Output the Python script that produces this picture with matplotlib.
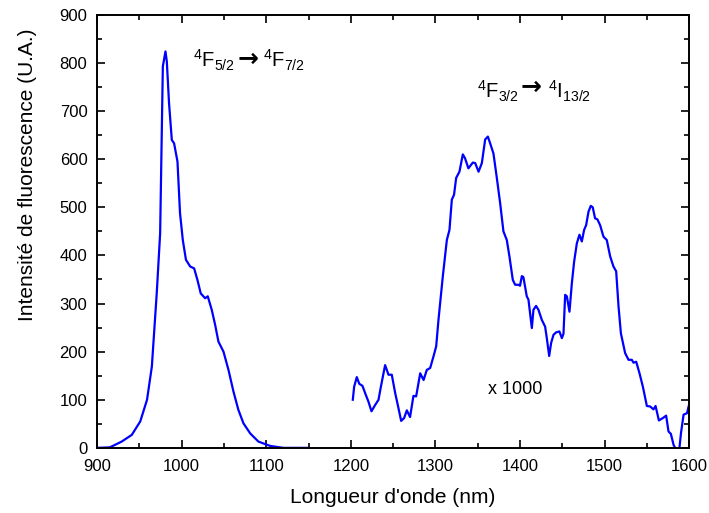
import numpy as np
import matplotlib
matplotlib.use('Agg')
import matplotlib.pyplot as plt

plt.rcParams['font.family'] = ['Liberation Sans', 'DejaVu Sans']
plt.rcParams['mathtext.fontset'] = 'custom'
plt.rcParams['mathtext.rm'] = 'Liberation Sans'
plt.rcParams['mathtext.it'] = 'Liberation Sans'

# 4F5/2 -> 4F7/2 band
wl_1 = [900, 915, 929, 941, 951, 959, 964.7, 970.5, 974.5, 977.7, 980.8, 982.4,
        985, 988.3, 991, 995, 998, 1001.3, 1005, 1010, 1014.7, 1018.6, 1022.5,
        1027.7, 1030.8, 1035.5, 1039.5, 1043.4, 1049.4, 1055.3, 1061.2, 1067,
        1073, 1081, 1090.7, 1104.6, 1120, 1150]
int_1 = [0, 1, 13, 27, 55, 100, 169, 322, 446, 793, 824, 803,
         717, 640, 633, 595, 488, 432, 391, 377, 373, 349, 321,
         311, 315, 287, 256, 221, 200, 162, 117, 79,
         51, 30, 13, 4, 0, 0]

# 4F3/2 -> 4I13/2 band (x 1000)
wl_2 = [1202.3, 1203.9, 1207, 1210, 1213.7, 1217.7, 1220.8, 1224.4, 1228.7, 1232.7,
        1235.5, 1240.5, 1244.5, 1248.4, 1252.4, 1255.5, 1259.5, 1263, 1266.2, 1270,
        1274, 1277.2, 1282, 1286, 1289.8, 1293.8, 1297.7, 1300.9, 1303.6, 1308.7,
        1313.5, 1316.6, 1319.4, 1322, 1324.5, 1328.4, 1332.4, 1335, 1339, 1344.2,
        1347, 1351, 1354.9, 1358.8, 1362, 1364.7, 1368.6, 1372.6, 1376.5, 1380.4,
        1384.4, 1387.5, 1391.5, 1394.3, 1398.2, 1400, 1402.2, 1404, 1408, 1410,
        1414, 1415.9, 1419, 1421.8, 1425.8, 1429.7, 1431.7, 1434.5, 1436.8, 1439.6,
        1442.7, 1446.6, 1449.5, 1451.4, 1453.4, 1455.4, 1458.5, 1461.3, 1464, 1467.2,
        1470.3, 1473.1, 1475.8, 1478.2, 1481, 1483.7, 1486, 1488.8, 1491.5, 1494.7,
        1498.7, 1502.6, 1506.6, 1510.5, 1513.7, 1516.5, 1519.3, 1524.3, 1528.3, 1532.2,
        1534.2, 1537.4, 1541.3, 1545.3, 1550, 1553.9, 1557.8, 1560.3, 1564.2, 1569,
        1572.8, 1575.6, 1578.4, 1581.6, 1584.7, 1588.3, 1590.3, 1593.4, 1597.4, 1600.4]
int_2 = [100, 127, 147, 133, 129, 110, 96, 76, 89, 100,
         127, 172, 152, 152, 114, 89, 56, 62, 78, 64,
         108, 107, 155, 141, 162, 166, 190, 211, 266, 356,
         432, 453, 516, 526, 561, 574, 610, 602, 581, 593,
         592, 574, 592, 641, 647, 633, 612, 561, 509, 450,
         432, 398, 349, 339, 339, 337, 357, 355, 315, 308,
         249, 287, 295, 287, 266, 252, 228, 191, 218, 235,
         240, 242, 228, 237, 318, 315, 283, 342, 387, 425,
         443, 429, 453, 463, 491, 503, 500, 477, 475, 463,
         439, 432, 398, 377, 367, 294, 238, 197, 183, 183,
         177, 179, 155, 127, 87, 86, 80, 87, 57, 62,
         67, 34, 29, 6, -4, -4, 30, 69, 72, 93]

fig = plt.figure(figsize=(7.09, 5.13), dpi=100)
ax = fig.add_axes([0.137, 0.127, 0.835, 0.844])

ax.plot(wl_1, int_1, color='#0000ff', linewidth=1.6)
ax.plot(wl_2, int_2, color='#0000ff', linewidth=1.6)

ax.set_xlim(900, 1600)
ax.set_ylim(0, 900)
ax.set_xticks(np.arange(900, 1601, 100))
ax.set_xticks(np.arange(900, 1601, 50), minor=True)
ax.set_yticks(np.arange(0, 901, 100))
ax.set_yticks(np.arange(0, 901, 50), minor=True)
ax.tick_params(which='both', direction='in', top=True, right=True, labelsize=12, width=1.2)
ax.tick_params(which='major', length=6)
ax.tick_params(which='minor', length=3.5)
ax.tick_params(axis='x', pad=8)
ax.tick_params(axis='y', pad=7)
for s in ax.spines.values():
    s.set_linewidth(1.4)

ax.set_xlabel("Longueur d'onde (nm)", fontsize=15)
ax.xaxis.set_label_coords(0.5, -0.092)
ax.set_ylabel('Intensité de fluorescence (U.A.)', fontsize=15)
ax.yaxis.set_label_coords(-0.101, 0.63)

# transition labels
ax.text(1013.5, 790, r'$^4$F$_{5/2}$', fontsize=14.5, va='baseline')
ax.text(1066.5, 808, '→', fontsize=18, va='center', family='DejaVu Sans', fontweight='bold')
ax.text(1096.3, 790, r'$^4$F$_{7/2}$', fontsize=14.5, va='baseline')

ax.text(1348.9, 727, r'$^4$F$_{3/2}$', fontsize=14.5, va='baseline')
ax.text(1401, 750, '→', fontsize=18, va='center', family='DejaVu Sans', fontweight='bold')
ax.text(1433.3, 727, r'$^4$I$_{13/2}$', fontsize=14.5, va='baseline')

ax.text(1362, 122, 'x 1000', fontsize=13, va='center')

fig.savefig('out.png', dpi=100)
